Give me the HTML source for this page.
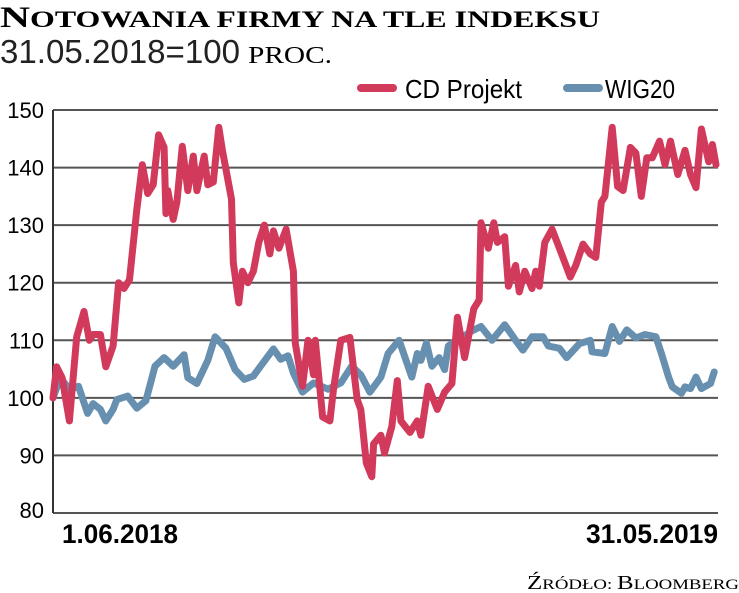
<!DOCTYPE html>
<html><head><meta charset="utf-8"><style>
body{margin:0;background:#fff;width:739px;height:593px;overflow:hidden;font-family:"Liberation Sans Narrow","Liberation Sans",sans-serif;color:#222}
svg{position:absolute;left:0;top:0}
</style></head><body>
<svg id="c" width="739" height="593">
<text x="0" y="27" font-family="Liberation Serif" font-weight="bold" font-size="23" textLength="600" lengthAdjust="spacingAndGlyphs"><tspan font-size="30">N</tspan>OTOWANIA FIRMY NA TLE INDEKSU</text>
<text x="0" y="63" font-size="33" fill="#222" textLength="240" lengthAdjust="spacingAndGlyphs">31.05.2018=100</text>
<text x="248" y="63" font-family="Liberation Serif" font-size="24" textLength="84" lengthAdjust="spacingAndGlyphs">PROC.</text>
<g>
<line x1="361" y1="88" x2="393" y2="88" stroke="#d23a5c" stroke-width="8" stroke-linecap="round"/>
<text x="405" y="98" font-size="26" textLength="117" lengthAdjust="spacingAndGlyphs">CD Projekt</text>
<line x1="567" y1="88" x2="599" y2="88" stroke="#6790b0" stroke-width="8" stroke-linecap="round"/>
<text x="605" y="98" font-size="26" textLength="70" lengthAdjust="spacingAndGlyphs">WIG20</text>
</g>
<g id="grid"></g>
<g id="series"></g>
<text x="62" y="543" font-size="27" font-weight="bold" textLength="116" lengthAdjust="spacingAndGlyphs">1.06.2018</text>
<text x="718" y="543" font-size="27" font-weight="bold" text-anchor="end" textLength="132" lengthAdjust="spacingAndGlyphs">31.05.2019</text>
<text x="739" y="589" font-family="Liberation Serif" font-size="15" text-anchor="end" textLength="212" lengthAdjust="spacingAndGlyphs"><tspan font-size="20">Ź</tspan>RÓDŁO: <tspan font-size="20">B</tspan>LOOMBERG</text>
</svg>
<script>
const yTicks=[80,90,100,110,120,130,140,150];
const cdDays=[0,2,5,9,13,17,20,22,26,29,33,36,39,42,46,49,52,55,58,61,62,63,66,68,71,74,77,79,83,85,88,91,93,98,99,102,104,107,110,113,116,119,121,124,128,132,133,137,140,143,144,148,152,154,158,163,167,169,172,175,176,180,182,186,189,191,196,200,202,206,211,215,219,222,226,231,234,235,239,242,244,248,250,254,256,259,263,265,267,270,274,278,284,287,291,295,298,301,303,307,310,313,317,320,323,326,329,333,336,339,343,347,350,353,356,360,362,364];
const cdValues=[100,105.4,103.5,96,110.6,115,110,111,111,105.4,109,120,119,120.5,132.7,140.5,135.5,137,145.7,143.5,132,136,131,134,143.7,136,142,136,142,137,137.5,147,143,134.5,123.5,116.5,122,120,122,127,130,125,129,126,129.3,122,109.5,102,110,104,110,96.7,96,101.5,110,110.5,99.7,98,88.7,86.3,92,93.5,90.4,95,103,96,94,96,93.5,102,98,101,102.5,114,107,115.5,117,130.4,126,130.4,127,128,119.4,123,118.4,122,119,122,119.4,127,129.3,126,121,123,126.7,125,124.4,134,135,147,136.7,136,143.5,142.5,135,141.7,141.7,144.6,140.5,144.6,138.8,143,138.8,136.5,146.7,141,144,140.5];
const wigDays=[0,4,9,14,19,22,26,29,33,35,41,46,51,56,61,66,72,74,79,85,89,95,100,105,110,114,121,125,129,132,137,143,151,158,164,169,174,180,184,190,197,200,202,205,208,212,215,217,226,231,235,241,248,254,258,263,269,272,278,282,289,295,296,303,307,311,315,320,325,331,334,338,340,345,347,350,353,356,361,363];
const wigValues=[100,103.5,101.5,102,97.3,99,98,96,98,99.7,100.3,98.2,99.5,105.5,107,105.5,107.5,103.5,102.5,106.5,110.6,108.6,104.9,103.2,103.8,105.5,108.5,106.7,107.3,104.3,101,102.6,101.5,102.6,105.5,104,101,103.6,107.7,110,103.6,107.7,106.5,109.5,105.5,107,104.9,109,110.8,111.8,112.4,110,112.7,110,108.3,110.6,110.6,109,108.6,107,109.4,110,108,107.7,112.4,109.8,111.8,110.4,111,110.6,107.7,103.6,101.9,100.8,101.9,101.6,103.6,101.6,102.5,104.5];
const L=53,R=716,T=110,B=513,maxDay=364;
const xs=d=>L+(R-L)*d/maxDay;
const ys=v=>B-(v-80)/70*(B-T);
const NS='http://www.w3.org/2000/svg';
const grid=document.getElementById('grid');
yTicks.forEach(t=>{
  const ln=document.createElementNS(NS,'line');
  ln.setAttribute('x1',L);ln.setAttribute('x2',718);ln.setAttribute('y1',ys(t));ln.setAttribute('y2',ys(t));
  ln.setAttribute('stroke','#555');ln.setAttribute('stroke-width','2');
  
  
  grid.appendChild(ln);
  const tx=document.createElementNS(NS,'text');
  tx.setAttribute('x',44);tx.setAttribute('y',ys(t)+(t===80?5:8));tx.setAttribute('text-anchor','end');
  tx.setAttribute('font-size','22');tx.textContent=t;
  
  
  grid.appendChild(tx);
});
const ax=document.createElementNS(NS,'line');
ax.setAttribute('x1',L);ax.setAttribute('x2',L);ax.setAttribute('y1',T);ax.setAttribute('y2',B);
ax.setAttribute('stroke','#333');ax.setAttribute('stroke-width','2');


grid.appendChild(ax);
const ser=document.getElementById('series');
function draw(days,vals,color,name){
  const p=document.createElementNS(NS,'polyline');
  p.setAttribute('points',days.map((d,i)=>xs(d).toFixed(1)+','+ys(vals[i]).toFixed(1)).join(' '));
  p.setAttribute('fill','none');p.setAttribute('stroke',color);p.setAttribute('stroke-width','7');
  p.setAttribute('stroke-linejoin','round');p.setAttribute('stroke-linecap','round');
  
  
  ser.appendChild(p);
}
draw(wigDays,wigValues,'#6790b0','wig20-line');
draw(cdDays,cdValues,'#d23a5c','cd-projekt-line');
</script>
</body></html>
